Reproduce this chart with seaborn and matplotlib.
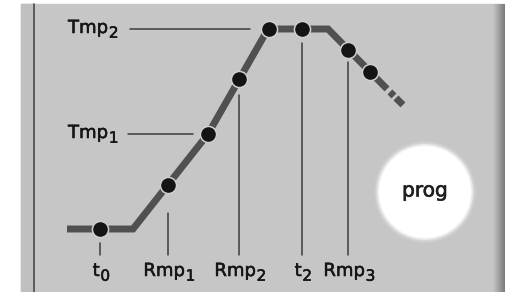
import matplotlib
matplotlib.use("Agg")
import matplotlib.pyplot as plt
import matplotlib.patheffects as pe
import seaborn as sns
import numpy as np
from matplotlib.patches import Rectangle, Circle

# ---------------- data ----------------
profile_time = [67, 133, 208, 268, 328, 387]
profile_temp = [63, 63, 158, 263, 263, 203]
tail_time = [387, 404]
tail_temp = [203, 186]

dot_time = [100, 168, 208, 239, 269, 302, 348, 370]
dot_temp = [63, 107, 158, 213, 263, 263, 242, 220]

temp_names = ["Tmp", "Tmp"]
temp_subs = ["1", "2"]
temp_levels = [158, 263]
temp_line_start = [128, 130]
temp_line_end = [193, 250]

event_names = ["t", "Rmp", "Rmp", "t", "Rmp"]
event_subs = ["0", "1", "2", "2", "3"]
event_times = [100, 168, 239, 302, 348]
event_line_top = [49, 79, 197, 249, 230]

# ---------------- style ----------------
BG = "#c6c6c6"
LINE = "#505050"
DOT = "#141414"
THIN = "#3c3c3c"
TXT = "#161616"
FS = 13
STROKE = [pe.withStroke(linewidth=0.4, foreground=TXT)]

sns.set_style("white")
plt.rcParams["font.family"] = ["DejaVu Sans"]
plt.rcParams["lines.scale_dashes"] = False

fig = plt.figure(figsize=(5.05, 2.92), dpi=100, facecolor="white")
ax = fig.add_axes([0, 0, 1, 1])
ax.set_xlim(0, 505)
ax.set_ylim(0, 292)
ax.axis("off")

# panel background
ax.add_patch(Rectangle((21, 0), 484, 288, color=BG, zorder=0))
ax.add_patch(Rectangle((21, 0), 12, 288, color="#c0c0c0", zorder=0.1))
ax.plot([33.5, 33.5], [0, 288], color="#4a4a4a", lw=1.2, zorder=0.2)
grad = np.linspace(0, 1, 50)[None, :]
ax.imshow(grad, extent=(493, 505, 0, 288),
          cmap=matplotlib.colors.LinearSegmentedColormap.from_list("g", [BG, "#7a7a7a"]),
          aspect="auto", zorder=0.15)

# prog circle with soft edge
for r, a in [(51, 0.10), (49.5, 0.22), (48, 0.45), (46.5, 0.8), (45.5, 1.0)]:
    ax.add_patch(Circle((425, 100), r, color="white", alpha=a, zorder=1, lw=0))
ax.text(425, 101, "prog", fontsize=14.5, ha="center", va="center", color="#202020", zorder=2,
        path_effects=[pe.withStroke(linewidth=0.5, foreground="#202020")])

# profile
sns.lineplot(x=profile_time, y=profile_temp, sort=False, estimator=None, color=LINE,
             linewidth=5, ax=ax, solid_capstyle="butt", solid_joinstyle="miter", zorder=3)
sns.lineplot(x=tail_time, y=tail_temp, sort=False, estimator=None, color=LINE,
             linewidth=5, ax=ax, dash_capstyle="butt", zorder=3)
ax.get_lines()[-1].set_linestyle((13.2, (4.1, 2.0, 7.1, 3.0)))

sns.scatterplot(x=dot_time, y=dot_temp, s=135, color=DOT, edgecolor="#d0d0d0",
                linewidth=1.1, ax=ax, zorder=5, legend=False)

# reference lines
for y, x0, x1 in zip(temp_levels, temp_line_start, temp_line_end):
    ax.plot([x0, x1], [y, y], color=THIN, lw=1.1, zorder=2)
for x, top in zip(event_times, event_line_top):
    ax.plot([x, x], [37, top], color=THIN, lw=1.1, zorder=2)

# labels with large subscripts
def sub_label(x, y, main, sub):
    t = ax.text(x, y, main, fontsize=FS, ha="left", va="baseline", color=TXT, zorder=6,
                path_effects=STROKE)
    s = ax.annotate(sub, xy=(1, 0), xycoords=t, xytext=(0.5, -0.5), textcoords="offset points",
                    fontsize=FS * 0.85, ha="left", va="baseline", color=TXT, zorder=6,
                    path_effects=STROKE)
    return t, s

for y, n, sb in zip(temp_levels, temp_names, temp_subs):
    sub_label(68, y - 4, n, sb)

bottom = []
for x, n, sb in zip(event_times, event_names, event_subs):
    bottom.append((x, *sub_label(x, 16, n, sb)))

fig.canvas.draw()
r = fig.canvas.get_renderer()
for x, t, s in bottom:
    w = t.get_window_extent(r).width + s.get_window_extent(r).width
    t.set_x(x - w / 2 + 1)

fig.savefig("out.png", dpi=100, facecolor="white")
